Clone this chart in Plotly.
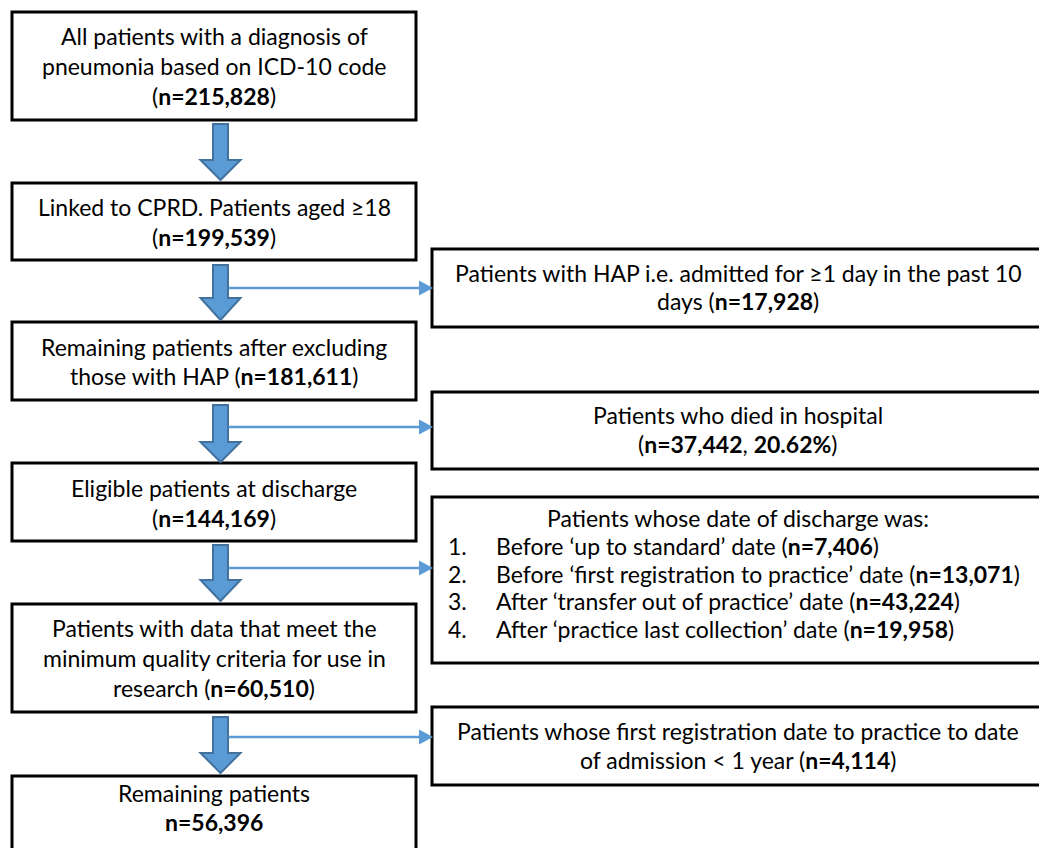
import plotly.graph_objects as go

# ---------------- data ----------------
main_n = [215828, 199539, 181611, 144169, 60510, 56396]
hap_n = 17928
died_n = 37442
died_pct = 20.62
discharge_reasons = [
    "Before \u2018up to standard\u2019 date",
    "Before \u2018first registration to practice\u2019 date",
    "After \u2018transfer out of practice\u2019 date",
    "After \u2018practice last collection\u2019 date",
]
discharge_n = [7406, 13071, 43224, 19958]
short_reg_n = 4114


def nb(n):
    return f"<b>n={n:,}</b>"


main_lines = [
    ["All patients with a diagnosis of", "pneumonia based on ICD-10 code", f"({nb(main_n[0])})"],
    ["Linked to CPRD. Patients aged \u226518", f"({nb(main_n[1])})"],
    ["Remaining patients after excluding", f"those with HAP ({nb(main_n[2])})"],
    ["Eligible patients at discharge", f"({nb(main_n[3])})"],
    ["Patients with data that meet the", "minimum quality criteria for use in", f"research ({nb(main_n[4])})"],
    ["Remaining patients", nb(main_n[5])],
]
side_lines = [
    ["Patients with HAP i.e. admitted for \u22651 day in the past 10", f"days ({nb(hap_n)})"],
    ["Patients who died in hospital", f"({nb(died_n)}, <b>{died_pct:.2f}%</b>)"],
    ["Patients whose date of discharge was:"],
    ["Patients whose first registration date to practice to date", f"of admission < 1 year ({nb(short_reg_n)})"],
]

# ---------------- layout geometry (page pixels) ----------------
W, H = 1039, 848
LX0, LX1 = 12, 416
main_box_y = [(12, 120), (183, 260), (322, 400), (463, 541), (604, 712), (776, 860)]
main_line_y = [[36, 66, 96], [207, 237], [347, 376], [488, 518], [628, 658, 688], [793, 822]]
RX0, RX1 = 432, 1060
side_box_y = [(249, 327), (392, 469), (497, 663), (707, 785)]
side_line_y = [[273, 301], [415, 444], [518], [731, 760]]
list_y = [546, 574, 601, 629]
arrow_y = [(124, 160, 180), (265, 298, 320), (405, 442, 462), (545, 580, 601), (717, 753, 773)]
side_arrow = {1: 288, 2: 427, 3: 568, 4: 737}

FONT = "Lato, 'Open Sans', sans-serif"
FS = 23
BLUE = "#5B9BD5"
BLUE_DARK = "#41719C"

fig = go.Figure()
fig.add_trace(go.Scatter(x=[0, W], y=[0, H], mode="markers",
                         marker=dict(opacity=0), hoverinfo="skip", showlegend=False))

shapes = []
annotations = []

def box(x0, y0, x1, y1):
    shapes.append(dict(type="rect", x0=x0, y0=y0, x1=x1, y1=y1,
                       line=dict(color="black", width=3), fillcolor="white", layer="below"))

def text(x, y, s, anchor="center"):
    annotations.append(dict(x=x, y=y, text=s, showarrow=False, xanchor=anchor, yanchor="middle",
                            font=dict(family=FONT, size=FS, color="black")))

for (y0, y1), lines, ly in zip(main_box_y, main_lines, main_line_y):
    box(LX0, y0, LX1, y1)
    for s, yy in zip(lines, ly):
        text((LX0 + LX1) / 2, yy, s)

for (y0, y1), lines, ly in zip(side_box_y, side_lines, side_line_y):
    box(RX0, y0, RX1, y1)
    for s, yy in zip(lines, ly):
        text(738, yy, s)

for i, (reason, n, yy) in enumerate(zip(discharge_reasons, discharge_n, list_y)):
    text(446, yy, f"{i + 1}.", anchor="left")
    text(494, yy, f"{reason} ({nb(n)})", anchor="left")

# block arrows
cx = 220.5
for top, hs, tip in arrow_y:
    path = (f"M {cx-7.5} {top} L {cx+7.5} {top} L {cx+7.5} {hs} L {cx+20} {hs} "
            f"L {cx} {tip} L {cx-20} {hs} L {cx-7.5} {hs} Z")
    shapes.append(dict(type="path", path=path, fillcolor=BLUE,
                       line=dict(color=BLUE_DARK, width=2)))

# side arrows
for k, yy in side_arrow.items():
    shapes.append(dict(type="line", x0=cx + 8, y0=yy, x1=421, y1=yy,
                       line=dict(color=BLUE, width=2.5)))
    shapes.append(dict(type="path", path=f"M 419 {yy-7.5} L 433 {yy} L 419 {yy+7.5} Z",
                       fillcolor=BLUE, line=dict(color=BLUE, width=0)))

fig.update_layout(
    width=W, height=H,
    margin=dict(l=0, r=0, t=0, b=0),
    paper_bgcolor="white", plot_bgcolor="white",
    xaxis=dict(range=[0, W], visible=False, fixedrange=True),
    yaxis=dict(range=[H, 0], visible=False, fixedrange=True),
    shapes=shapes, annotations=annotations, showlegend=False,
)

fig.write_html("out.html",
               config={"displayModeBar": False},
               post_script="document.body.style.margin='0';document.body.style.overflow='hidden';")
